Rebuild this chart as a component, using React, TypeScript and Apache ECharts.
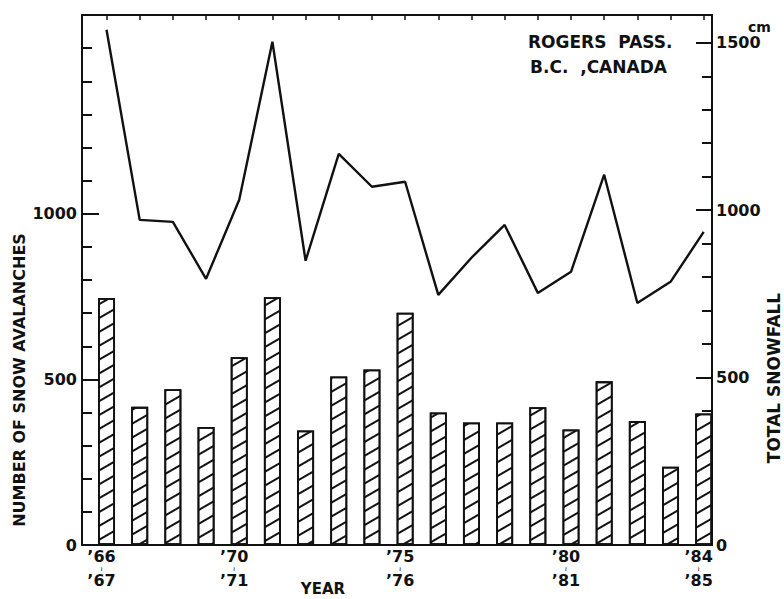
import React, { useEffect, useRef } from "react";
import * as echarts from "echarts";

const seasons = [
  "1966-67", "1967-68", "1968-69", "1969-70", "1970-71", "1971-72", "1972-73",
  "1973-74", "1974-75", "1975-76", "1976-77", "1977-78", "1978-79", "1979-80",
  "1980-81", "1981-82", "1982-83", "1983-84", "1984-85",
];
// number of snow avalanches (left axis)
const avalanches = [746, 417, 470, 356, 567, 748, 346, 509, 530, 701, 400, 370, 370, 416, 349, 494, 374, 236, 397];
// total snowfall in cm (right axis)
const snowfall = [1539, 971, 965, 795, 1031, 1503, 849, 1168, 1070, 1085, 747, 858, 956, 753, 816, 1106, 723, 786, 935];

const labeledSeasons = [0, 4, 9, 14, 18];
const leftLabels = [0, 500, 1000];
const leftMajorTicks = [500, 1000];
const leftMinorTicks = [100, 200, 300, 400, 600, 700, 800, 900, 1100, 1200, 1300, 1400, 1500];
const rightLabels = [0, 500, 1000, 1500];
const rightMajorTicks = [500, 1000, 1500];
const rightMinorTicks = [100, 200, 300, 400, 600, 700, 800, 900, 1100, 1200, 1300, 1400];

const FONT = "DejaVu Sans";
const INK = "#111";

export default function App() {
  const ref = useRef<HTMLDivElement>(null);
  useEffect(() => {
    if (!ref.current) return;
    const chart = echarts.init(ref.current, undefined, { renderer: "svg" });
    const seasonIdx = seasons.map((_, i) => i);
    const xMin = -0.739;
    const xMax = 18.25;
    const baseText = { fontFamily: FONT, color: INK, fontWeight: "bold" as const };
    const plain = (v: number) => String(v);
    const option: any = {
      animation: false,
      backgroundColor: "#fff",
      grid: { left: 82, right: 72, top: 15, bottom: 54 },
      xAxis: [
        {
          type: "value",
          position: "bottom",
          min: xMin,
          max: xMax,
          splitLine: { show: false },
          axisLine: { show: true, onZero: false, lineStyle: { color: INK, width: 2 } },
          axisTick: { show: false },
          axisLabel: {
            customValues: labeledSeasons,
            margin: 2,
            padding: [0, 10, 0, 0],
            formatter: (v: number) => {
              const s = seasons[Math.round(v)];
              if (!s) return "";
              return `{a|\u2019${s.slice(2, 4)}}\n{s|\u2240}\n{a|\u2019${s.slice(5, 7)}}`;
            },
            rich: {
              a: { ...baseText, fontSize: 16, lineHeight: 18 },
              s: { ...baseText, fontSize: 6, lineHeight: 6 },
            },
          },
        },
        {
          type: "value",
          position: "top",
          min: xMin,
          max: xMax,
          splitLine: { show: false },
          axisLine: { show: true, onZero: false, lineStyle: { color: INK, width: 2 } },
          axisTick: { show: true, inside: true, length: 5, customValues: seasonIdx, lineStyle: { color: INK, width: 1.5 } },
          axisLabel: { show: false },
        },
      ],
      yAxis: [
        {
          type: "value",
          position: "left",
          min: 0,
          max: 1600,
          splitLine: { show: false },
          axisLine: { show: true, onZero: false, lineStyle: { color: INK, width: 2 } },
          axisTick: { show: true, inside: true, length: 10, customValues: leftMinorTicks, lineStyle: { color: INK, width: 2 } },
          axisLabel: { customValues: leftLabels, margin: 5, formatter: plain, ...baseText, fontSize: 16 },
        },
        {
          type: "value",
          position: "left",
          min: 0,
          max: 1600,
          splitLine: { show: false },
          axisLine: { show: false, onZero: false },
          axisTick: { show: true, inside: true, length: 17, customValues: leftMajorTicks, lineStyle: { color: INK, width: 2 } },
          axisLabel: { show: false },
        },
        {
          type: "value",
          position: "right",
          min: 0,
          max: 1583,
          splitLine: { show: false },
          axisLine: { show: true, onZero: false, lineStyle: { color: INK, width: 2 } },
          axisTick: { show: true, inside: true, length: 10, customValues: rightMinorTicks, lineStyle: { color: INK, width: 2 } },
          axisLabel: { customValues: rightLabels, margin: 4, formatter: plain, ...baseText, fontSize: 16 },
        },
        {
          type: "value",
          position: "right",
          min: 0,
          max: 1583,
          splitLine: { show: false },
          axisLine: { show: false, onZero: false },
          axisTick: { show: true, inside: true, length: 16, customValues: rightMajorTicks, lineStyle: { color: INK, width: 2 } },
          axisLabel: { show: false },
        },
      ],
      series: [
        {
          type: "bar",
          xAxisIndex: 0,
          yAxisIndex: 0,
          barWidth: 17,
          data: avalanches.map((v, i) => [i, v]),
          itemStyle: {
            color: "#fff",
            borderColor: INK,
            borderWidth: 1.8,
            decal: {
              symbol: "rect",
              symbolSize: 1,
              color: INK,
              dashArrayX: [1, 0],
              dashArrayY: [1.8, 9.5],
              rotation: -Math.PI / 6,
            },
          },
        },
        {
          type: "line",
          xAxisIndex: 0,
          yAxisIndex: 2,
          symbol: "none",
          data: snowfall.map((v, i) => [i, v]),
          lineStyle: { color: INK, width: 2.4 },
        },
      ],
      graphic: [
        { type: "text", left: 528, top: 33, style: { text: "ROGERS  PASS.", font: `bold 17px "${FONT}"`, fill: INK } },
        { type: "text", left: 530, top: 58, style: { text: "B.C.  ,CANADA", font: `bold 17px "${FONT}"`, fill: INK } },
        { type: "text", left: 748, top: 20, style: { text: "cm", font: `bold 14px "${FONT}"`, fill: INK } },
        {
          type: "text",
          x: 19,
          y: 380,
          rotation: Math.PI / 2,
          style: { text: "NUMBER OF SNOW AVALANCHES", font: `bold 16px "${FONT}"`, fill: INK, align: "center", verticalAlign: "middle" },
        },
        {
          type: "text",
          x: 774,
          y: 378,
          rotation: Math.PI / 2,
          style: { text: "TOTAL SNOWFALL", font: `bold 17px "${FONT}"`, fill: INK, align: "center", verticalAlign: "middle" },
        },
        {
          type: "text",
          x: 323,
          y: 589,
          style: { text: "YEAR", font: `bold 15px "${FONT}"`, fill: INK, align: "center", verticalAlign: "middle" },
        },
      ],
    };
    chart.setOption(option);
    return () => chart.dispose();
  }, []);
  return <div ref={ref} style={{ position: "fixed", left: 0, top: 0, width: 784, height: 599 }} />;
}
